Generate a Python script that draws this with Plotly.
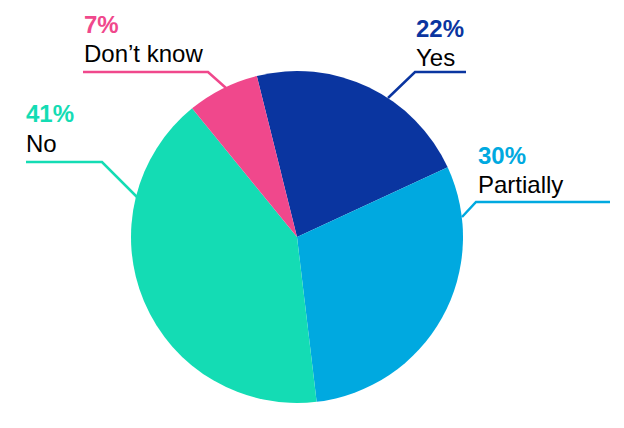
import plotly.graph_objects as go

W, H = 624, 428
OFF = 8  # page body margin offset

labels = ["Yes", "Partially", "No", "Don\u2019t know"]
values = [22, 30, 41, 7]
colors = ["#0a35a0", "#00a9e0", "#14dcb4", "#f0488c"]

# label placement (pixels): left x, percent center y, label center y
label_pos = {
    "Yes": (415, 28, 57),
    "Partially": (477, 156, 185),
    "No": (25, 114, 143),
    "Don\u2019t know": (83, 24, 53),
}
# leader lines (pixels): horizontal start, elbow, end at pie edge
leaders = {
    "Yes": [(466, 72), (415, 72), (388, 98)],
    "Partially": [(610, 202), (476, 202), (462, 217)],
    "No": [(26, 162), (102, 162), (137, 197)],
    "Don\u2019t know": [(83, 72), (208, 72), (226, 88)],
}

def px(x):
    return (x - OFF) / W

def py(y):
    return 1 - (y - OFF) / H

cx, cy, r = 297, 237, 166

fig = go.Figure(
    go.Pie(
        labels=labels,
        values=values,
        marker=dict(colors=colors, line=dict(width=0)),
        sort=False,
        direction="clockwise",
        rotation=-14,
        textinfo="none",
        hoverinfo="label+percent",
        domain=dict(x=[px(cx - r), px(cx + r)], y=[py(cy + r), py(cy - r)]),
        showlegend=False,
    )
)

font_family = "Liberation Sans, Arial, Helvetica, sans-serif"
annotations = []
shapes = []
for lab, val, col in zip(labels, values, colors):
    x, yp, yl = label_pos[lab]
    annotations.append(dict(
        x=px(x - 1), y=py(yp), xref="paper", yref="paper",
        xanchor="left", yanchor="middle", showarrow=False,
        text=f"<b>{val}%</b>", font=dict(family=font_family, size=24, color=col),
    ))
    annotations.append(dict(
        x=px(x - 1), y=py(yl), xref="paper", yref="paper",
        xanchor="left", yanchor="middle", showarrow=False,
        text=lab, font=dict(family=font_family, size=24, color="#000000"),
    ))
    pts = leaders[lab]
    path = "M " + " L ".join(f"{px(a):.5f},{py(b):.5f}" for a, b in pts)
    shapes.append(dict(type="path", path=path, xref="paper", yref="paper",
                       line=dict(color=col, width=2.5)))

fig.update_layout(
    width=W, height=H,
    margin=dict(l=0, r=0, t=0, b=0),
    paper_bgcolor="white", plot_bgcolor="white",
    annotations=annotations,
    shapes=shapes,
)

fig.write_html("out.html")
